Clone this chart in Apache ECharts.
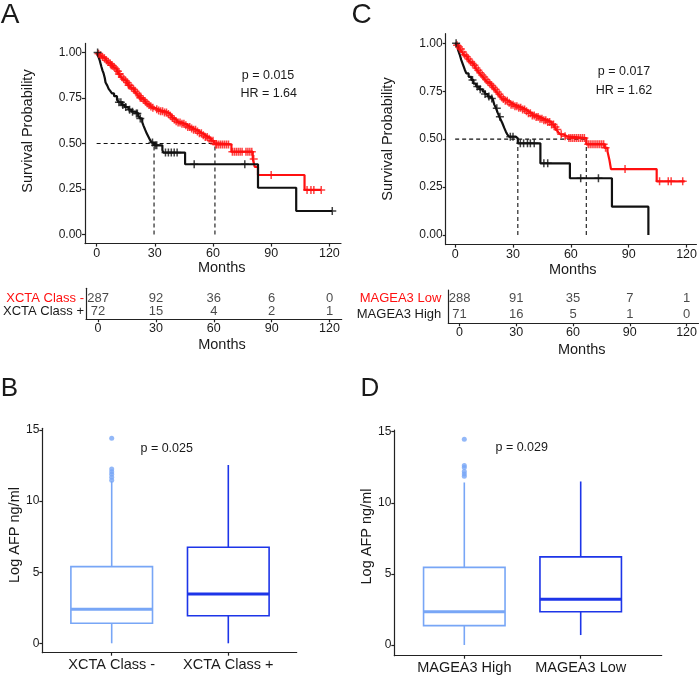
<!DOCTYPE html>
<html>
<head>
<meta charset="utf-8">
<script src="https://cdn.jsdelivr.net/npm/echarts@6/dist/echarts.min.js"></script>
<style>
html,body{margin:0;padding:0;background:#fff;}
#chart{width:700px;height:683px;}
</style>
</head>
<body>
<div id="chart"></div>
<script>
// ---------------- DATA ----------------
const monthTicks = [0, 30, 60, 90, 120];
const survTicks = [0, 0.25, 0.5, 0.75, 1];
const afpTicks = [0, 5, 10, 15];

// Panel A : Kaplan-Meier steps [month, survival]
const xctaNegSteps = [[0,1],[0.5,0.993],[1.5,0.985],[2.5,0.977],[3.5,0.968],[4.5,0.958],[5.5,0.948],[6.5,0.94],[7.5,0.93],[8.5,0.92],[9.5,0.91],[10.5,0.897],[11.5,0.882],[12.5,0.866],[13.5,0.855],[14.5,0.845],[15.5,0.834],[16.5,0.82],[17.5,0.808],[18.5,0.798],[19.5,0.787],[20.5,0.776],[21.5,0.763],[22.5,0.752],[23.5,0.742],[24.5,0.732],[25.5,0.721],[26.5,0.711],[27.5,0.703],[28.5,0.696],[30,0.688],[31.5,0.682],[33,0.677],[35,0.671],[36.5,0.662],[38,0.652],[39,0.642],[40,0.632],[41,0.622],[42,0.616],[44,0.609],[45.5,0.6],[47,0.591],[48.5,0.582],[50,0.575],[51.5,0.566],[53,0.556],[54.5,0.546],[56,0.536],[57.5,0.526],[59,0.515],[60.5,0.502],[61,0.495],[69.5,0.455],[80.5,0.415],[81.5,0.372],[83.2,0.327],[107.2,0.245],[115.8,0.245]];
const xctaPosSteps = [[0,1],[0.8,0.98],[1.5,0.96],[2,0.94],[2.5,0.92],[3,0.902],[3.6,0.885],[4.2,0.86],[4.6,0.835],[5.5,0.818],[6.2,0.8],[7,0.789],[7.9,0.775],[9,0.76],[10.5,0.74],[11.5,0.726],[13,0.712],[14.5,0.7],[16.4,0.686],[18,0.675],[19.9,0.665],[21.5,0.652],[22.4,0.638],[23.5,0.617],[24.1,0.6],[25,0.576],[25.8,0.556],[26.7,0.537],[27.6,0.518],[28.4,0.505],[29.6,0.49],[33.9,0.464],[34.4,0.45],[45.6,0.386],[83.2,0.257],[102.9,0.129],[121.5,0.129]];
const xctaNegCensor = [1,2,3,4,5,6,7,7.5,8,9,10,11,11.5,12,13,14,15,16,16.5,17,18,19,20,21,22,22.5,23,24,25,26,27,28,29,31,32,33,34,35,36,37,38,39,40,41,42,43,44,45,46,47,48,49,50,51,52,53,54,55,56,57,58,59,60,61.5,62,63,64,65,66,67,68,70,71,72,73,74,75,77,78,79,80,81,90,108.5,110.5,112,115.8];
const xctaPosCensor = [0.5,11.5,12.5,13.5,15,17,18.5,20.5,21,22.5,28.8,30.2,31,35.5,37,38.5,40,41.5,50.3,76.4,121.5];
const xctaMedians = [29.6, 61];
const xctaRiskNeg = [287, 92, 36, 6, 0];
const xctaRiskPos = [72, 15, 4, 2, 1];

// Panel C
const mageaLowSteps = [[0,1],[0.5,0.99],[1.5,0.98],[2.5,0.97],[3.5,0.955],[4.5,0.94],[5.5,0.93],[6.5,0.918],[7.5,0.905],[8.5,0.895],[9.5,0.885],[10.5,0.871],[11.5,0.86],[12.5,0.846],[13.5,0.835],[14.5,0.824],[15.5,0.811],[16.5,0.8],[17.5,0.79],[18.5,0.78],[19.5,0.77],[20.5,0.759],[21.5,0.746],[22.5,0.734],[23.5,0.721],[24.5,0.71],[26,0.7],[27.5,0.69],[29,0.68],[31,0.671],[33,0.664],[35,0.655],[36.5,0.645],[38,0.635],[40,0.624],[42,0.615],[44,0.606],[46,0.598],[48,0.589],[50,0.576],[51.5,0.564],[52.5,0.55],[53.5,0.536],[54.5,0.525],[56,0.515],[58,0.506],[68,0.473],[77.5,0.455],[79,0.435],[80,0.391],[80.8,0.344],[104.5,0.28],[119,0.28]];
const mageaHighSteps = [[0,1],[0.7,0.99],[1.5,0.965],[2.4,0.94],[3.2,0.912],[4.1,0.887],[5,0.862],[5.8,0.843],[7,0.825],[8.4,0.809],[9.5,0.79],[10.9,0.774],[12.5,0.76],[14.3,0.748],[15.5,0.735],[16.9,0.722],[18,0.712],[19.4,0.704],[20.3,0.68],[21.2,0.661],[22,0.64],[22.9,0.617],[23.7,0.6],[24.5,0.583],[25.4,0.56],[26.3,0.539],[27,0.525],[28,0.513],[31.4,0.504],[32.5,0.478],[44.2,0.374],[59.5,0.296],[81.3,0.148],[100.2,0]];
const mageaLowCensor = [1,2,3,4,5,6,7,8,9,10,11,12,13,14,15,16,17,18,19,20,21,22,23,24,25,26,27,28,29,30,31,32,33,34,35,36,37,38,39,40,41,42,43,44,45,46,47,48,49,50,51,52,53,55,57,59,60,61,62,63,64,65,66,67,69,70,71,72,73,74,75,76,77,78,88.1,106,110.5,112,118];
const mageaHighCensor = [0.5,9,11.5,13,15.5,17.5,19,21.6,23.2,28.6,30,33.8,35.5,37.5,39,41,46,48,65.1,74.3];
const mageaMedians = [32.5, 68];
const mageaRiskLow = [288, 91, 35, 7, 1];
const mageaRiskHigh = [71, 16, 5, 1, 0];

// Panel B boxplot: [min, Q1, median, Q3, max]
const xctaBoxCats = ['XCTA Class -', 'XCTA Class +'];
const xctaBoxStats = [[0, 1.41, 2.39, 5.39, 11.4], [0, 1.94, 3.47, 6.75, 12.54]];
const xctaOutliers = [14.42, 12.26, 12.07, 11.89, 11.68, 11.47];

// Panel D boxplot
const mageaBoxCats = ['MAGEA3 High', 'MAGEA3 Low'];
const mageaBoxStats = [[0, 1.36, 2.34, 5.46, 11.43], [0.7, 2.34, 3.22, 6.2, 11.5]];
const mageaOutliers = [14.47, 12.63, 12.49, 12.2, 12.03, 11.86];

// ---------------- STYLE ----------------
const FONT = 'Liberation Sans, Arial, Helvetica, sans-serif';
const INK = '#1a1a1a';
const AX = {color: '#222', width: 1.2};
const RED = '#ff1010';
const BLACK = '#111';
const LIGHTBLUE = '#78a6f6';
const DARKBLUE = '#1d35e8';

function survAt(steps, t) {
  let s = 1;
  for (const [x, v] of steps) { if (x <= t) s = v; else break; }
  return s;
}

const PLUS = 'path://M0,6H12M6,0V12';

function kmX(grid, min, max) {
  return {type:'value', gridIndex:grid, min, max,
    axisLine:{show:true, onZero:false, lineStyle:AX},
    axisTick:{show:true, customValues:monthTicks, length:3, lineStyle:AX},
    axisLabel:{customValues:monthTicks, fontSize:12.5, color:INK, fontFamily:FONT, margin:3},
    splitLine:{show:false}};
}
function kmY(grid) {
  return {type:'value', gridIndex:grid, min:-0.05, max:1.05,
    axisLine:{show:true, onZero:false, lineStyle:AX},
    axisTick:{show:true, customValues:survTicks, length:3, lineStyle:AX},
    axisLabel:{customValues:survTicks, fontSize:12, color:INK, fontFamily:FONT, margin:3,
      formatter:v => v.toFixed(2)},
    splitLine:{show:false}};
}
function tableY(grid, min, max, labelTop, labelBottom, margin) {
  return {type:'value', gridIndex:grid, min, max,
    axisLine:{show:true, onZero:false, lineStyle:AX},
    axisTick:{show:false},
    axisLabel:{customValues:[0,1], margin, fontFamily:FONT,
      formatter:v => v === 1 ? '{r|' + labelTop + '}' : '{k|' + labelBottom + '}',
      rich:{r:{color:RED, fontSize:13, fontFamily:FONT}, k:{color:INK, fontSize:13, fontFamily:FONT}}},
    splitLine:{show:false}};
}
function boxFrameX(grid) {
  return {type:'value', gridIndex:grid, min:0, max:1,
    axisLine:{show:true, onZero:false, lineStyle:AX}, axisTick:{show:false}, axisLabel:{show:false}, splitLine:{show:false}};
}
function boxFrameY(grid, min) {
  return {type:'value', gridIndex:grid, min, max:15.12,
    axisLine:{show:true, onZero:false, lineStyle:AX},
    axisTick:{show:true, customValues:afpTicks, length:3, lineStyle:AX},
    axisLabel:{customValues:afpTicks, fontSize:12, color:INK, fontFamily:FONT, margin:3},
    splitLine:{show:false}};
}
function boxCatX(grid, cats) {
  return {type:'category', gridIndex:grid, data:cats,
    axisLine:{show:false, onZero:false},
    axisTick:{show:true, alignWithLabel:true, length:3, lineStyle:AX},
    axisLabel:{interval:0, fontSize:14.5, color:INK, fontFamily:FONT, margin:5, hideOverlap:false}};
}
function boxCatY(grid, min) {
  return {type:'value', gridIndex:grid, min, max:15.12, show:false, splitLine:{show:false}};
}

function stepLine(ax, steps, color) {
  return {type:'line', xAxisIndex:ax, yAxisIndex:ax, data:steps, step:'end', showSymbol:false,
    lineStyle:{color, width:2.2}, silent:true, animation:false, z:3};
}
function censor(ax, steps, times, color) {
  return {type:'scatter', xAxisIndex:ax, yAxisIndex:ax, symbol:PLUS, symbolSize:8,
    data:times.map(t => [t, survAt(steps, t)]),
    itemStyle:{color:'none', borderColor:color, borderWidth:1.5}, silent:true, animation:false, z:4};
}
function medianLines(ax, medians) {
  const dash = {color:BLACK, width:1.1, type:[4,3]};
  const out = [{type:'line', xAxisIndex:ax, yAxisIndex:ax, data:[[0,0.5],[Math.max(...medians),0.5]],
    showSymbol:false, lineStyle:dash, silent:true, animation:false, z:2}];
  medians.forEach(m => out.push({type:'line', xAxisIndex:ax, yAxisIndex:ax, data:[[m,0],[m,0.5]],
    showSymbol:false, lineStyle:dash, silent:true, animation:false, z:2}));
  return out;
}
function riskRow(ax, counts, row) {
  return {type:'scatter', xAxisIndex:ax, yAxisIndex:ax, symbolSize:0,
    data:counts.map((n, i) => [monthTicks[i], row, n]),
    label:{show:true, position:'inside', formatter:p => String(p.value[2]), fontSize:13, color:INK, fontFamily:FONT},
    silent:true, animation:false};
}
function boxSeries(ax, stats, colors) {
  return {type:'custom', xAxisIndex:ax, yAxisIndex:ax, animation:false, silent:true,
    data:stats.map((s, i) => [i, ...s]),
    encode:{x:0, y:[1,2,3,4,5]},
    renderItem:(params, api) => {
      const i = api.value(0);
      const c = colors[params.dataIndex];
      const pMin = api.coord([i, api.value(1)]);
      const pQ1 = api.coord([i, api.value(2)]);
      const pMed = api.coord([i, api.value(3)]);
      const pQ3 = api.coord([i, api.value(4)]);
      const pMax = api.coord([i, api.value(5)]);
      const w = api.size([1, 0])[0] * 0.7;
      const x0 = pMed[0] - w / 2;
      return {type:'group', children:[
        {type:'line', shape:{x1:pMin[0], y1:pMin[1], x2:pQ1[0], y2:pQ1[1]}, style:{stroke:c, lineWidth:1.6}},
        {type:'line', shape:{x1:pQ3[0], y1:pQ3[1], x2:pMax[0], y2:pMax[1]}, style:{stroke:c, lineWidth:1.6}},
        {type:'rect', shape:{x:x0, y:pQ3[1], width:w, height:pQ1[1]-pQ3[1]}, style:{fill:'#fff', stroke:c, lineWidth:1.6}},
        {type:'line', shape:{x1:x0, y1:pMed[1], x2:x0+w, y2:pMed[1]}, style:{stroke:c, lineWidth:3}}
      ]};
    }};
}
function outlierSeries(ax, vals, color) {
  return {type:'scatter', xAxisIndex:ax, yAxisIndex:ax, symbolSize:5,
    data:vals.map(v => [0, v]), itemStyle:{color}, silent:true, animation:false, z:5};
}

function txt(text, x, y, size, opts) {
  opts = opts || {};
  return {type:'text', x, y, rotation:opts.rot || 0, z:100,
    style:{text, fontSize:size, fontFamily:FONT, fill:opts.color || INK,
      align:'center', verticalAlign:'middle', textAlign:'center', textVerticalAlign:'middle'}};
}

const option = {
  backgroundColor:'#fff',
  animation:false,
  grid:[
    {left:85, top:43.4, width:256, height:200.2},      // 0 KM A
    {left:81, top:288.3, width:260.7, height:31},      // 1 table A
    {left:445.7, top:33.7, width:254.3, height:210.9}, // 2 KM C
    {left:448.3, top:290, width:251.7, height:33.3},   // 3 table C
    {left:42.3, top:428.3, width:254.4, height:224.4}, // 4 box B frame
    {left:53.4, top:428.3, width:233.2, height:224.4}, // 5 box B cats
    {left:394.3, top:430, width:267.4, height:225.7},  // 6 box D frame
    {left:406.1, top:430, width:232.8, height:225.7}   // 7 box D cats
  ],
  xAxis:[
    kmX(0, -6, 126),
    kmX(1, -6.25, 126.3),
    kmX(2, -4.9, 125.1),
    kmX(3, -5.94, 126.3),
    boxFrameX(4),
    boxCatX(5, xctaBoxCats),
    boxFrameX(6),
    boxCatX(7, mageaBoxCats)
  ],
  yAxis:[
    kmY(0),
    tableY(1, -0.567, 1.769, 'XCTA Class -', 'XCTA Class +', 2),
    kmY(2),
    tableY(3, -0.5625, 1.519, 'MAGEA3 Low', 'MAGEA3 High', 7),
    boxFrameY(4, -0.661),
    boxCatY(5, -0.661),
    boxFrameY(6, -0.752),
    boxCatY(7, -0.752)
  ],
  series:[
    ...medianLines(0, xctaMedians),
    stepLine(0, xctaNegSteps, RED),
    censor(0, xctaNegSteps, xctaNegCensor, RED),
    stepLine(0, xctaPosSteps, BLACK),
    censor(0, xctaPosSteps, xctaPosCensor, BLACK),
    riskRow(1, xctaRiskNeg, 1),
    riskRow(1, xctaRiskPos, 0),
    ...medianLines(2, mageaMedians),
    stepLine(2, mageaLowSteps, RED),
    censor(2, mageaLowSteps, mageaLowCensor, RED),
    stepLine(2, mageaHighSteps, BLACK),
    censor(2, mageaHighSteps, mageaHighCensor, BLACK),
    riskRow(3, mageaRiskLow, 1),
    riskRow(3, mageaRiskHigh, 0),
    boxSeries(5, xctaBoxStats, [LIGHTBLUE, DARKBLUE]),
    outlierSeries(5, xctaOutliers, LIGHTBLUE),
    boxSeries(7, mageaBoxStats, [LIGHTBLUE, DARKBLUE]),
    outlierSeries(7, mageaOutliers, LIGHTBLUE)
  ],
  graphic:[
    txt('A', 10, 15, 28),
    txt('C', 361.5, 15, 28),
    txt('B', 9.5, 389, 26),
    txt('D', 370, 389, 26),
    txt('Survival Probability', 27.5, 131, 14.5, {rot:Math.PI/2}),
    txt('Survival Probability', 387.5, 139, 14.5, {rot:Math.PI/2}),
    txt('Months', 221.7, 268.3, 14.5),
    txt('Months', 572.7, 270, 14.5),
    txt('Months', 222, 345, 14.5),
    txt('Months', 581.7, 350, 14.5),
    txt('p = 0.015', 268, 76, 12.5),
    txt('HR = 1.64', 268.7, 94, 12.5),
    txt('p = 0.017', 624, 71.7, 12.5),
    txt('HR = 1.62', 624, 90.7, 12.5),
    txt('Log AFP ng/ml', 15, 535, 14.5, {rot:Math.PI/2}),
    txt('Log AFP ng/ml', 366.7, 536.5, 14.5, {rot:Math.PI/2}),
    txt('p = 0.025', 166.7, 448.3, 12.5),
    txt('p = 0.029', 521.7, 447.3, 12.5)
  ]
};

const chart = echarts.init(document.getElementById('chart'), null, {renderer:'canvas'});
chart.setOption(option);
</script>
</body>
</html>
